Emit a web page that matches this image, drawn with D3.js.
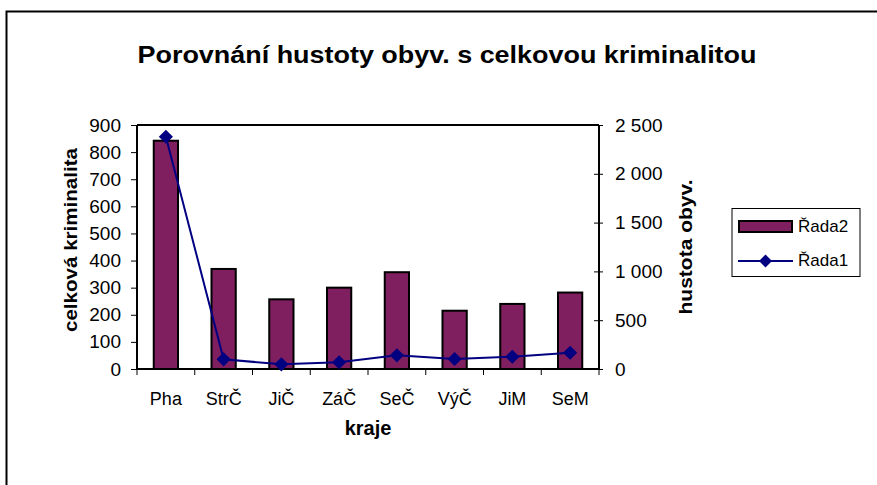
<!DOCTYPE html>
<html lang="cs">
<head>
<meta charset="UTF-8">
<title>Porovnání hustoty obyv. s celkovou kriminalitou</title>
<script src="https://cdn.jsdelivr.net/npm/d3@7/dist/d3.min.js"></script>
<style>
  body { margin: 0; background: #fff; font-family: Arial, 'Liberation Sans', sans-serif; }
  svg text { font-family: Arial, 'Liberation Sans', sans-serif; fill: #000; }
</style>
</head>
<body>
<svg id="chart" width="877" height="485"></svg>
<script>
// data
var kraje = ['Pha', 'StrČ', 'JiČ', 'ZáČ', 'SeČ', 'VýČ', 'JiM', 'SeM'];
var rada2 = [842, 369, 257, 300, 357, 215, 240, 282];      // celková kriminalita (bars, left axis)
var rada1 = [2380, 99, 48, 69, 140, 102, 126, 167];        // hustota obyv. (line, right axis)
var leftTicks = [0, 100, 200, 300, 400, 500, 600, 700, 800, 900];
var rightTicks = [0, 500, 1000, 1500, 2000, 2500];

var svg = d3.select('#chart');
var plot = { left: 137, right: 599, top: 125, bottom: 369 };
var barColor = '#7f1f5f', lineColor = '#000080';
var fmt = function (d) { return d3.format(',')(d).replace(/,/g, ' '); };

// outer chart frame (cropped at right/bottom)
svg.append('rect').attr('x', 6.5).attr('y', 11.5).attr('width', 880).attr('height', 490)
  .attr('fill', 'none').attr('stroke', '#000').attr('stroke-width', 2);

svg.append('text').attr('x', 447).attr('y', 63).attr('text-anchor', 'middle')
  .attr('textLength', 619).attr('lengthAdjust', 'spacingAndGlyphs')
  .style('font-size', '23px').style('font-weight', 'bold')
  .text('Porovnání hustoty obyv. s celkovou kriminalitou');

var x = d3.scaleBand().domain(kraje).range([plot.left, plot.right]).paddingInner(0.58).paddingOuter(0.29);
var xMid = d3.scaleBand().domain(kraje).range([plot.left, plot.right]);
var yL = d3.scaleLinear().domain([0, 900]).range([plot.bottom, plot.top]);
var yR = d3.scaleLinear().domain([0, 2500]).range([plot.bottom, plot.top]);

// plot area border (top)
svg.append('line').attr('x1', plot.left).attr('x2', plot.right).attr('y1', plot.top).attr('y2', plot.top)
  .attr('stroke', '#000').attr('stroke-width', 2);

// bars
svg.append('g').selectAll('rect').data(rada2).join('rect')
  .attr('x', function (d, i) { return x(kraje[i]); })
  .attr('width', x.bandwidth())
  .attr('y', function (d) { return yL(d); })
  .attr('height', function (d) { return plot.bottom - yL(d); })
  .attr('fill', barColor).attr('stroke', '#000').attr('stroke-width', 2);

// left axis
var gL = svg.append('g').attr('transform', 'translate(' + plot.left + ',0)')
  .call(d3.axisLeft(yL).tickValues(leftTicks).tickSize(6).tickPadding(10));
// right axis
var gR = svg.append('g').attr('transform', 'translate(' + plot.right + ',0)')
  .call(d3.axisRight(yR).tickValues(rightTicks).tickFormat(fmt).tickSize(4).tickPadding(12));
gR.selectAll('.tick line').attr('x1', -5);
// bottom axis with ticks between categories
var gB = svg.append('g').attr('transform', 'translate(0,' + plot.bottom + ')')
  .call(d3.axisBottom(xMid).tickSize(0).tickPadding(23));
gB.selectAll('.tick line').remove();
gB.selectAll('line.sep').data(d3.range(kraje.length + 1)).join('line').attr('class', 'sep')
  .attr('x1', function (i) { return plot.left + i * xMid.step(); })
  .attr('x2', function (i) { return plot.left + i * xMid.step(); })
  .attr('y1', 0).attr('y2', 6).attr('stroke', '#000').attr('stroke-width', 1);

[gL, gR, gB].forEach(function (g) {
  g.select('.domain').attr('stroke', '#000').attr('stroke-width', 2);
  g.selectAll('.tick line').attr('stroke', '#000').attr('stroke-width', 1);
  g.selectAll('text').style('font-size', '19px').attr('fill', '#000');
});
gB.selectAll('text').style('font-size', '18px');
gL.select('.domain').attr('d', 'M0,' + plot.top + 'V' + plot.bottom);
gR.select('.domain').attr('d', 'M0,' + plot.top + 'V' + plot.bottom);
gB.select('.domain').attr('d', 'M' + plot.left + ',0H' + plot.right);

// line series
var cx = function (i) { return xMid(kraje[i]) + xMid.bandwidth() / 2; };
var lineGen = d3.line()
  .x(function (d, i) { return cx(i); })
  .y(function (d) { return yR(d); });
svg.append('path').datum(rada1).attr('d', lineGen)
  .attr('fill', 'none').attr('stroke', lineColor).attr('stroke-width', 2);
svg.append('g').selectAll('path').data(rada1).join('path')
  .attr('transform', function (d, i) { return 'translate(' + cx(i) + ',' + yR(d) + ') rotate(45)'; })
  .attr('d', d3.symbol().type(d3.symbolSquare).size(100))
  .attr('fill', lineColor);

// axis titles
svg.append('text').attr('transform', 'translate(77,240) rotate(-90)').attr('text-anchor', 'middle')
  .attr('textLength', 184).attr('lengthAdjust', 'spacingAndGlyphs')
  .style('font-size', '19px').style('font-weight', 'bold').text('celková kriminalita');
svg.append('text').attr('transform', 'translate(692,247) rotate(-90)').attr('text-anchor', 'middle')
  .attr('textLength', 135).attr('lengthAdjust', 'spacingAndGlyphs')
  .style('font-size', '19px').style('font-weight', 'bold').text('hustota obyv.');
svg.append('text').attr('x', 368).attr('y', 435).attr('text-anchor', 'middle')
  .style('font-size', '20px').style('font-weight', 'bold').text('kraje');

// legend
var leg = svg.append('g');
leg.append('rect').attr('x', 732).attr('y', 208.5).attr('width', 128).attr('height', 68)
  .attr('fill', '#fff').attr('stroke', '#000').attr('stroke-width', 1);
leg.append('rect').attr('x', 739).attr('y', 221).attr('width', 53).attr('height', 11)
  .attr('fill', barColor).attr('stroke', '#000').attr('stroke-width', 2);
leg.append('text').attr('x', 798).attr('y', 232).style('font-size', '17px').text('Řada2');
leg.append('line').attr('x1', 738).attr('x2', 793).attr('y1', 261).attr('y2', 261)
  .attr('stroke', lineColor).attr('stroke-width', 2);
leg.append('path').attr('transform', 'translate(765.5,261) rotate(45)')
  .attr('d', d3.symbol().type(d3.symbolSquare).size(85)).attr('fill', lineColor);
leg.append('text').attr('x', 798).attr('y', 266).style('font-size', '17px').text('Řada1');
</script>
</body>
</html>
